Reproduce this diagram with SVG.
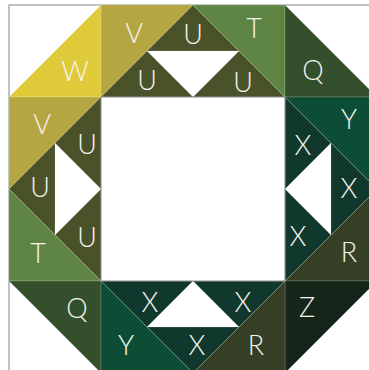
<svg xmlns="http://www.w3.org/2000/svg" width="369" height="370" viewBox="0 0 369 370">
  <style>
    .t { stroke: #ffffff; stroke-opacity: 0.28; stroke-width: 0.6; stroke-linejoin: miter; }
    .lbl { font-family: "Lato", "Open Sans", "Liberation Sans", sans-serif; font-weight: 300; font-size: 27px; fill: #f4f4ee; text-anchor: middle; }
    .W { fill: #dfcb3a; }
    .V { fill: #b6a642; }
    .U { fill: #4a5229; }
    .T { fill: #5e8443; }
    .Q { fill: #344f2c; }
    .Y { fill: #0d4d36; }
    .X { fill: #10382c; }
    .R { fill: #343f26; }
    .Z { fill: #14261a; }
    .frame { fill: none; stroke: #9a9a9a; stroke-width: 1.2; }
    .inner { fill: none; stroke: #8a8a8a; stroke-width: 1; }
  </style>
  <rect x="0" y="0" width="369" height="370" fill="#ffffff"/>
  <rect class="frame" x="9" y="5" width="400" height="400"/>

  <!-- top band -->
  <g id="W"><polygon class="t W" points="9,97 101,5 101,97"/><text class="lbl" x="75" y="81">W</text></g>
  <g id="V-top"><polygon class="t V" points="101,5 193,5 101,97"/><text class="lbl" x="134" y="43">V</text></g>
  <g id="U-top"><polygon class="t U" points="147,51 193,5 239,51"/><text class="lbl" x="193" y="44">U</text></g>
  <g id="U-top-left"><polygon class="t U" points="101,97 147,51 193,97"/><text class="lbl" x="147" y="90">U</text></g>
  <g id="U-top-right"><polygon class="t U" points="193,97 239,51 285,97"/><text class="lbl" x="243" y="92">U</text></g>
  <g id="T-top"><polygon class="t T" points="193,5 285,5 285,97"/><text class="lbl" x="254" y="38">T</text></g>
  <g id="Q-top"><polygon class="t Q" points="285,5 285,97 377,97"/><text class="lbl" x="313" y="80">Q</text></g>

  <!-- left band -->
  <g id="V-left"><polygon class="t V" points="9,97 101,97 9,189"/><text class="lbl" x="42" y="134">V</text></g>
  <g id="U-left-top"><polygon class="t U" points="55,143 101,97 101,189"/><text class="lbl" x="87" y="154">U</text></g>
  <g id="U-left"><polygon class="t U" points="9,189 55,143 55,235"/><text class="lbl" x="40" y="197">U</text></g>
  <g id="U-left-bottom"><polygon class="t U" points="55,235 101,189 101,281"/><text class="lbl" x="87" y="247">U</text></g>
  <g id="T-left"><polygon class="t T" points="9,189 9,281 101,281"/><text class="lbl" x="38" y="263">T</text></g>
  <g id="Q-left"><polygon class="t Q" points="9,281 101,281 101,373"/><text class="lbl" x="77" y="318">Q</text></g>

  <!-- right band -->
  <g id="Y-right"><polygon class="t Y" points="285,97 377,97 377,189"/><text class="lbl" x="349" y="129">Y</text></g>
  <g id="X-right-top"><polygon class="t X" points="285,97 331,143 285,189"/><text class="lbl" x="303" y="155">X</text></g>
  <g id="X-right"><polygon class="t X" points="331,143 377,189 331,235"/><text class="lbl" x="349" y="198">X</text></g>
  <g id="X-right-bottom"><polygon class="t X" points="285,189 331,235 285,281"/><text class="lbl" x="298" y="246">X</text></g>
  <g id="R-right"><polygon class="t R" points="377,189 377,281 285,281"/><text class="lbl" x="349" y="262">R</text></g>
  <g id="Z"><polygon class="t Z" points="285,281 377,281 285,373"/><text class="lbl" x="307" y="317">Z</text></g>

  <!-- bottom band -->
  <g id="Y-bottom"><polygon class="t Y" points="101,281 101,373 193,373"/><text class="lbl" x="126" y="355">Y</text></g>
  <g id="X-bottom-left"><polygon class="t X" points="101,281 193,281 147,327"/><text class="lbl" x="150" y="312">X</text></g>
  <g id="X-bottom"><polygon class="t X" points="147,327 239,327 193,373"/><text class="lbl" x="197" y="355">X</text></g>
  <g id="X-bottom-right"><polygon class="t X" points="193,281 285,281 239,327"/><text class="lbl" x="243" y="312">X</text></g>
  <g id="R-bottom"><polygon class="t R" points="285,281 285,373 193,373"/><text class="lbl" x="256" y="355">R</text></g>

  <g id="connectors"></g>
  <rect class="inner" x="101" y="97" width="184" height="184"/>
</svg>
